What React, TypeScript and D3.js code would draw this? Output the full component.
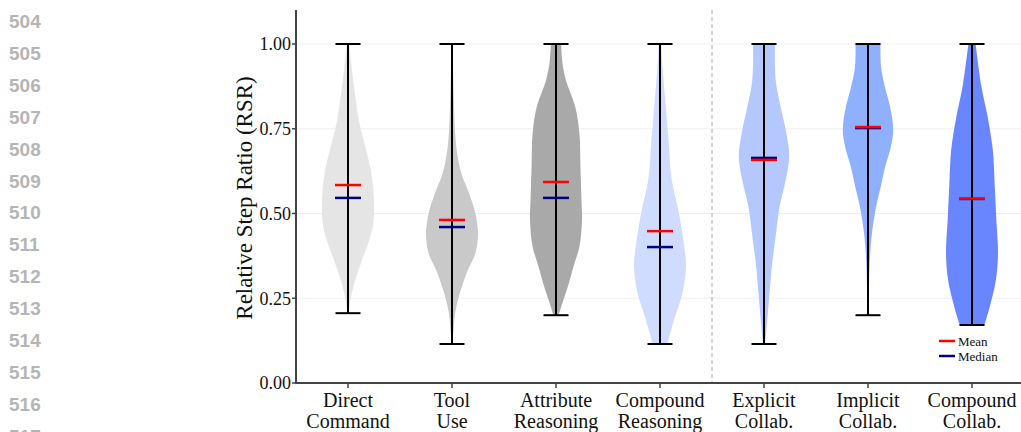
import React from "react";
import * as d3 from "d3";

const categories = [
  "Direct Command",
  "Tool Use",
  "Attribute Reasoning",
  "Compound Reasoning",
  "Explicit Collab.",
  "Implicit Collab.",
  "Compound Collab.",
];
const labelLines = [
  ["Direct", "Command"],
  ["Tool", "Use"],
  ["Attribute", "Reasoning"],
  ["Compound", "Reasoning"],
  ["Explicit", "Collab."],
  ["Implicit", "Collab."],
  ["Compound", "Collab."],
];
const colors = ["#e5e5e5", "#c9c9c9", "#a9a9a9", "#cfdcff", "#b4c8ff", "#8fb0ff", "#6a86ff"];
const mins = [0.206, 0.115, 0.2, 0.115, 0.115, 0.2, 0.171];
const maxs = [1.0, 1.0, 1.0, 1.0, 1.0, 1.0, 1.0];
const means = [0.584, 0.481, 0.593, 0.448, 0.658, 0.755, 0.544];
const medians = [0.546, 0.46, 0.546, 0.401, 0.664, 0.752, 0.543];

// relative density profiles: [value, relative half-width]
const profiles: [number, number][][] = [
  [[0.206, 0.02], [0.245, 0.09], [0.304, 0.28], [0.363, 0.54], [0.422, 0.82], [0.46, 0.95], [0.5, 1.0], [0.55, 0.99], [0.61, 0.92], [0.697, 0.67], [0.756, 0.47], [0.835, 0.3], [0.933, 0.14], [1.0, 0.04]],
  [[0.115, 0.02], [0.147, 0.05], [0.206, 0.12], [0.265, 0.3], [0.324, 0.56], [0.383, 0.9], [0.441, 1.0], [0.5, 0.9], [0.559, 0.66], [0.618, 0.36], [0.677, 0.2], [0.736, 0.12], [0.835, 0.07], [0.933, 0.04], [1.0, 0.02]],
  [[0.2, 0.1], [0.244, 0.28], [0.283, 0.45], [0.343, 0.67], [0.402, 0.9], [0.48, 1.0], [0.54, 0.98], [0.639, 0.94], [0.737, 0.9], [0.815, 0.74], [0.894, 0.38], [0.95, 0.24], [1.0, 0.2]],
  [[0.115, 0.28], [0.186, 0.54], [0.265, 0.86], [0.343, 1.0], [0.42, 0.9], [0.5, 0.73], [0.6, 0.45], [0.717, 0.33], [0.835, 0.2], [0.93, 0.1], [1.0, 0.05]],
  [[0.115, 0.04], [0.165, 0.1], [0.244, 0.19], [0.343, 0.3], [0.44, 0.46], [0.52, 0.6], [0.6, 0.84], [0.668, 0.97], [0.737, 0.86], [0.815, 0.64], [0.894, 0.45], [1.0, 0.42]],
  [[0.2, 0.02], [0.245, 0.03], [0.363, 0.07], [0.44, 0.15], [0.52, 0.31], [0.579, 0.49], [0.638, 0.66], [0.697, 0.88], [0.746, 0.97], [0.815, 0.85], [0.874, 0.65], [0.933, 0.5], [1.0, 0.48]],
  [[0.171, 0.47], [0.182, 0.52], [0.236, 0.72], [0.304, 0.92], [0.383, 1.0], [0.49, 0.93], [0.59, 0.87], [0.688, 0.8], [0.786, 0.6], [0.88, 0.35], [1.0, 0.14]],
];
const yTicks = [0, 0.25, 0.5, 0.75, 1.0];
const lineNumbers = [504, 505, 506, 507, 508, 509, 510, 511, 512, 513, 514, 515, 516, 517];

const W = 1021;
const H = 432;
const axisX = 296;
const axisBottom = 383;
const axisTop = 10;
const serif = "'Liberation Serif', 'Times New Roman', serif";

export default function App() {
  const x = d3.scalePoint<string>().domain(categories).range([348, 972]);
  const y = d3.scaleLinear().domain([0, 1]).range([axisBottom, 44]);
  const halfW = 26;
  const capW = 12.5;
  const statW = 13;

  return (
    <svg
      width={W}
      height={H}
      style={{ position: "absolute", left: 0, top: 0, background: "#fff" }}
    >
      {lineNumbers.map((n, i) => (
        <text
          key={n}
          x={9}
          y={28 + i * 31.9}
          fontFamily="'Liberation Sans', Arial, sans-serif"
          fontWeight="bold"
          fontSize={19}
          fill="#b5b5b5"
        >
          {n}
        </text>
      ))}
      {/* grid */}
      {yTicks.filter((t) => t > 0).map((t) => (
        <line key={t} x1={axisX} x2={W} y1={y(t)} y2={y(t)} stroke="#efefef" strokeWidth={1} />
      ))}
      {/* divider */}
      <line x1={712} x2={712} y1={axisTop} y2={axisBottom} stroke="#aaaaaa" strokeWidth={1} strokeDasharray="4,3" />
      {/* violins */}
      {categories.map((c, i) => {
        const cx = x(c)!;
        const area = d3
          .area<[number, number]>()
          .y((d) => y(d[0]))
          .x0((d) => cx - d[1] * halfW)
          .x1((d) => cx + d[1] * halfW)
          .curve(d3.curveCatmullRom.alpha(0.5));
        return (
          <g key={c}>
            <path d={area(profiles[i]) || ""} fill={colors[i]} stroke="none" />
            <line x1={cx} x2={cx} y1={y(mins[i])} y2={y(maxs[i])} stroke="#000" strokeWidth={2} />
            <line x1={cx - capW} x2={cx + capW} y1={y(maxs[i])} y2={y(maxs[i])} stroke="#000" strokeWidth={2} />
            <line x1={cx - capW} x2={cx + capW} y1={y(mins[i])} y2={y(mins[i])} stroke="#000" strokeWidth={2} />
            <line x1={cx - statW} x2={cx + statW} y1={y(medians[i])} y2={y(medians[i])} stroke="#00008b" strokeWidth={2.5} />
            <line x1={cx - statW} x2={cx + statW} y1={y(means[i])} y2={y(means[i])} stroke="#ff0000" strokeWidth={2.5} />
          </g>
        );
      })}
      {/* axes */}
      <line x1={axisX} x2={axisX} y1={axisTop} y2={axisBottom + 1} stroke="#444" strokeWidth={2} />
      <line x1={axisX - 1} x2={W} y1={axisBottom} y2={axisBottom} stroke="#444" strokeWidth={2} />
      {yTicks.map((t) => (
        <g key={t}>
          <line x1={axisX - 4} x2={axisX} y1={y(t)} y2={y(t)} stroke="#444" strokeWidth={1.5} />
          <text x={291} y={y(t)} dy="0.35em" textAnchor="end" fontFamily={serif} fontSize={18} fill="#111">
            {t.toFixed(2)}
          </text>
        </g>
      ))}
      {categories.map((c, i) => (
        <g key={c}>
          <line x1={x(c)!} x2={x(c)!} y1={axisBottom} y2={axisBottom + 5} stroke="#444" strokeWidth={1.5} />
          {labelLines[i].map((l, j) => (
            <text key={j} x={x(c)!} y={407 + j * 21} textAnchor="middle" fontFamily={serif} fontSize={20} fill="#111">
              {l}
            </text>
          ))}
        </g>
      ))}
      <text
        transform={`translate(252, 198) rotate(-90)`}
        textAnchor="middle"
        fontFamily={serif}
        fontSize={23}
        fill="#111"
      >
        Relative Step Ratio (RSR)
      </text>
      {/* legend */}
      <line x1={939} x2={955} y1={341} y2={341} stroke="#ff0000" strokeWidth={2.5} />
      <text x={958} y={341} dy="0.35em" fontFamily={serif} fontSize={13} fill="#111">Mean</text>
      <line x1={939} x2={955} y1={356} y2={356} stroke="#00008b" strokeWidth={2.5} />
      <text x={958} y={356} dy="0.35em" fontFamily={serif} fontSize={13} fill="#111">Median</text>
    </svg>
  );
}
